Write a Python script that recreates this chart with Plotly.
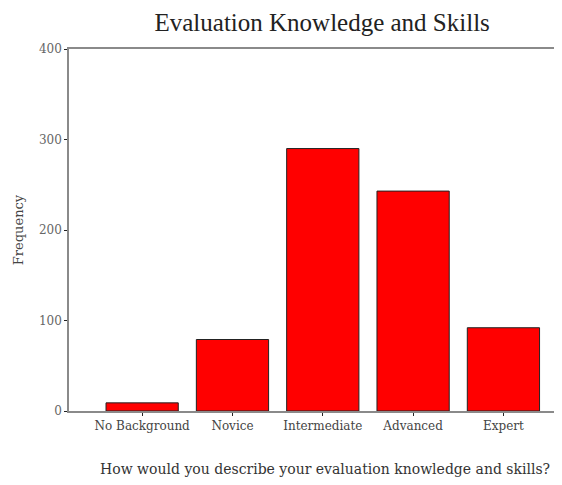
import plotly.graph_objects as go

categories = ["No Background", "Novice", "Intermediate", "Advanced", "Expert"]
frequency = [9, 79, 290, 243, 92]
y_ticks = [0, 100, 200, 300, 400]

serif = "Liberation Serif, Times New Roman, serif"
label_font = "DejaVu Serif, serif"

fig = go.Figure()
fig.add_trace(go.Bar(
    x=list(range(len(categories))), y=frequency,
    marker=dict(color="#ff0000", line=dict(color="#222222", width=1)),
    showlegend=False,
))

# page body keeps its 8px margin, so the figure is sized to fit inside the window
fig.update_layout(
    width=546, height=469,
    margin=dict(l=61, r=0, t=41, b=66),
    paper_bgcolor="white", plot_bgcolor="white",
    bargap=0.2,
    font=dict(family=label_font, size=12, color="#444444"),
    title=dict(text="Evaluation Knowledge and Skills", x=0.522, xref="paper", xanchor="center",
               y=0.970, yanchor="middle", font=dict(family=serif, size=25, color="#222222")),
)

fig.update_xaxes(
    range=[-0.81, 4.56],
    tickmode="array", tickvals=list(range(len(categories))), ticktext=categories,
    showline=True, linecolor="#8a8a8a", linewidth=1.5, mirror=True,
    ticks="outside", ticklen=3, tickcolor="#222222",
    showgrid=False, zeroline=False,
    tickfont=dict(family=label_font, size=12, color="#444444"),
)
fig.update_yaxes(
    range=[0, 400], tickvals=y_ticks,
    showline=True, linecolor="#8a8a8a", linewidth=1.5, mirror=False,
    ticks="outside", ticklen=3, tickcolor="#222222",
    showgrid=False, zeroline=False,
    title=dict(text="Frequency", font=dict(family=label_font, size=13, color="#444444"), standoff=12),
    tickfont=dict(family=label_font, size=12, color="#666666"),
)

fig.add_annotation(
    text="How would you describe your evaluation knowledge and skills?",
    xref="paper", yref="paper", x=0.528, y=0, yshift=-58, xanchor="center", yanchor="middle",
    showarrow=False, font=dict(family=label_font, size=14, color="#333333"),
)

fig.write_html("out.html")
